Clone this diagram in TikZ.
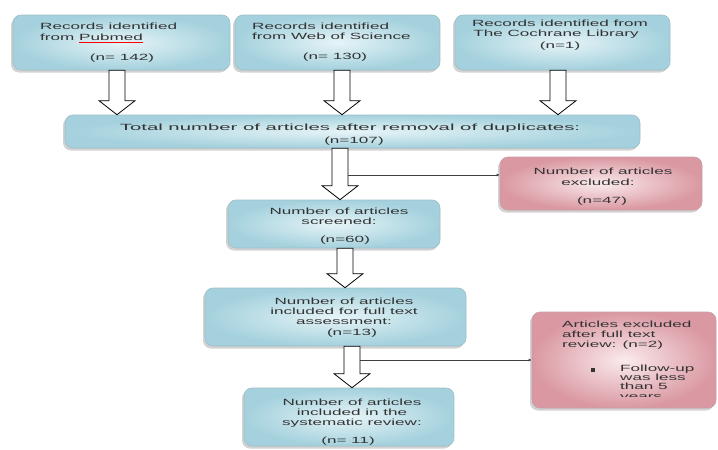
\documentclass[tikz,border=0pt]{standalone}
\usepackage{fontspec}
\setmainfont{Liberation Sans}
\newfontfamily\boxfont[FakeStretch=1.9]{Liberation Sans}
\usetikzlibrary{calc,shadows,arrows.meta}
\definecolor{bluein}{HTML}{E6F4F7}
\definecolor{blueout}{HTML}{A4D1DD}
\definecolor{blueline}{HTML}{9DBFC8}
\definecolor{redin}{HTML}{FAEBEC}
\definecolor{redout}{HTML}{DA98A2}
\definecolor{redline}{HTML}{C9A0A6}
\definecolor{txt}{HTML}{333333}
\tikzset{
  bluebox/.style={rectangle, rounded corners=8pt, draw=blueline, line width=0.6pt,
    inner color=bluein, outer color=blueout,
    drop shadow={shadow xshift=-2pt, shadow yshift=-2.5pt, opacity=0.35}},
  redbox/.style={rectangle, rounded corners=8pt, draw=redline, line width=0.6pt,
    inner color=redin, outer color=redout,
    drop shadow={shadow xshift=-2pt, shadow yshift=-2.5pt, opacity=0.35}},
  lbl/.style={font=\boxfont\fontsize{9}{10}\selectfont, text=txt, inner sep=0pt,
    text height=6.3pt, text depth=1.6pt},
  hollowarrow/.style={draw=black, fill=white, line width=0.8pt, line join=miter},
  sideline/.style={draw=black!75, line width=0.7pt, -{Latex[length=3pt,width=3pt]}},
}
\newcommand\harrow[3]{%
  \draw[hollowarrow] let \p1=(#2.south), \p2=(#3.north) in
    ({(#1-8)*1pt},\y1) -- ({(#1+8)*1pt},\y1) -- ({(#1+8)*1pt},\y2+14pt)
    -- ({(#1+18)*1pt},\y2+14pt) -- ({#1*1pt},\y2) -- ({(#1-18)*1pt},\y2+14pt)
    -- ({(#1-8)*1pt},\y2+14pt) -- cycle;}
\begin{document}
\begin{tikzpicture}[x=1pt,y=-1pt]
\useasboundingbox (0,0) rectangle (718,450);
\fill[white] (0,0) rectangle (718,450);

% boxes
\node[bluebox, minimum width=217pt, minimum height=55pt] (b1) at (121.5,42.5) {};
\node[bluebox, minimum width=205pt, minimum height=55pt] (b2) at (337.5,42.5) {};
\node[bluebox, minimum width=215pt, minimum height=55pt] (b3) at (562.5,42.5) {};
\node[bluebox, minimum width=575pt, minimum height=33pt] (tot) at (352.5,131.5) {};
\node[redbox, minimum width=202pt, minimum height=53pt] (ex1) at (601,183.5) {};
\node[bluebox, minimum width=212pt, minimum height=48pt] (scr) at (334,224) {};
\node[bluebox, minimum width=261pt, minimum height=58pt] (ful) at (335.5,317) {};
\node[bluebox, minimum width=210pt, minimum height=58pt] (fin) at (349,417) {};
\node[redbox, minimum width=184pt, minimum height=96pt] (ex2) at (624,360) {};

% texts
\node[lbl, anchor=west] (b1t1) at (40,27) {Records identified};
\node[lbl, anchor=west] (b1t2) at (40,38) {from {\color{red}\underline{\color{txt}Pubmed}}};
\node[lbl] (b1t3) at (122,58) {(n= 142)};

\node[lbl, anchor=west] (b2t1) at (252,27) {Records identified};
\node[lbl, anchor=west] (b2t2) at (252,37) {from Web of Science};
\node[lbl] (b2t3) at (335,57) {(n= 130)};

\node[lbl] (b3t1) at (560,24) {Records identified from};
\node[lbl] (b3t2) at (556,34) {The Cochrane Library};
\node[lbl] (b3t3) at (560,46) {(n=1)};

\node[lbl] (tott1) at (350,128) {\scalebox{1.19}[1]{Total number of articles after removal of duplicates:}};
\node[lbl] (tott2) at (354,141) {(n=107)};

\node[lbl] (ex1t1) at (603,172) {Number of articles};
\node[lbl] (ex1t2) at (598,183) {excluded:};
\node[lbl] (ex1t3) at (602,201) {(n=47)};

\node[lbl] (scrt1) at (339,212) {Number of articles};
\node[lbl] (scrt2) at (339,222) {screened:};
\node[lbl] (scrt3) at (345,240) {(n=60)};

\node[lbl] (fult1) at (344,302) {Number of articles};
\node[lbl] (fult2) at (344,312) {included for full text};
\node[lbl] (fult3) at (344,322) {assessment:};
\node[lbl] (fult4) at (352,333) {(n=13)};

\node[lbl] (fint1) at (352,403) {Number of articles};
\node[lbl] (fint2) at (352,413) {included in the};
\node[lbl] (fint3) at (352,423) {systematic review:};
\node[lbl] (fint4) at (348,441) {(n= 11)};

\node[lbl, anchor=west] (ex2t1) at (562,325) {Articles excluded};
\node[lbl, anchor=west] (ex2t2) at (562,335) {after full text};
\node[lbl, anchor=west] (ex2t3) at (562,345) {review: (n=2)};
\begin{scope}
  \clip (540,350) rectangle (716,396.5);
  \fill[txt] (591,368) rectangle (594.5,371.5);
  \node[lbl, anchor=west] (ex2t4) at (620,369) {Follow-up};
  \node[lbl, anchor=west] (ex2t5) at (620,378) {was less};
  \node[lbl, anchor=west] (ex2t6) at (620,387) {than 5};
  \node[lbl, anchor=west] (ex2t7) at (620,397) {years};
\end{scope}

% hollow arrows
\harrow{117}{b1}{tot}
\harrow{342}{b2}{tot}
\harrow{558}{b3}{tot}
\harrow{340}{tot}{scr}
\harrow{345}{scr}{ful}
\harrow{352}{ful}{fin}

% side connectors
\coordinate (j1) at (348,175);
\coordinate (j2) at (360,360);
\draw[sideline] (j1) -- (j1 -| ex1.west);
\draw[sideline] (j2) -- (j2 -| ex2.west);
\end{tikzpicture}
\end{document}
